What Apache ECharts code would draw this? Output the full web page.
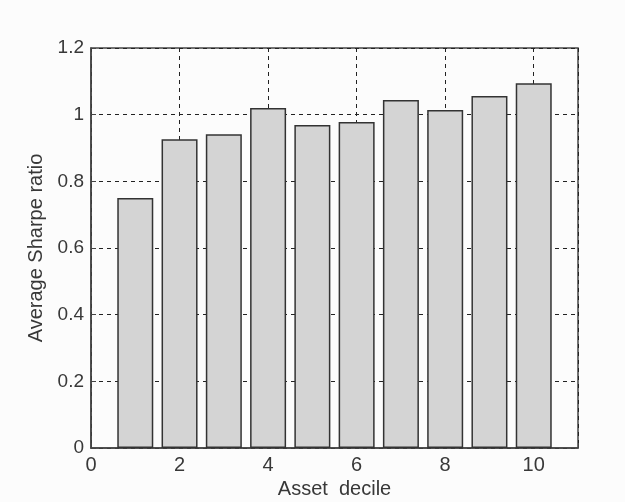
<!DOCTYPE html>
<html>
<head>
<meta charset="utf-8">
<script src="https://cdn.jsdelivr.net/npm/echarts@6/dist/echarts.min.js"></script>
<style>
html,body{margin:0;padding:0;background:#fcfcfc;}
#c{width:625px;height:502px;}
</style>
</head>
<body>
<div id="c"></div>
<script>
var deciles = [1, 2, 3, 4, 5, 6, 7, 8, 9, 10];
var sharpe = [0.750, 0.926, 0.941, 1.020, 0.969, 0.978, 1.044, 1.014, 1.056, 1.094];
var xTicks = [0, 2, 4, 6, 8, 10];
var yTicks = [0, 0.2, 0.4, 0.6, 0.8, 1, 1.2];

var chart = echarts.init(document.getElementById('c'));
var font = 'Liberation Sans, Arial, sans-serif';
var textColor = '#383838';
var dashed = {show: true, lineStyle: {color: '#222', type: [4, 4], width: 1}};
chart.setOption({
  backgroundColor: '#fcfcfc',
  animation: false,
  grid: {left: 91, right: 47, top: 48, bottom: 54, show: true, borderColor: '#444', borderWidth: 1.5,
    backgroundColor: 'transparent', outerBoundsMode: 'none', containLabel: false},
  xAxis: {
    type: 'value', min: 0, max: 11, interval: 2,
    name: 'Asset  decile', nameLocation: 'middle', nameGap: 30,
    nameTextStyle: {fontFamily: font, fontSize: 20, color: textColor},
    axisLine: {show: true, lineStyle: {color: '#444', width: 1.5}},
    axisTick: {show: true, inside: true, length: 5, lineStyle: {color: '#444'}},
    axisLabel: {fontFamily: font, fontSize: 20, color: textColor, margin: 7,
      formatter: function (v) { return xTicks.indexOf(v) >= 0 ? String(v) : ''; }},
    splitLine: dashed
  },
  yAxis: {
    type: 'value', min: 0, max: 1.2, interval: 0.2,
    name: 'Average Sharpe ratio', nameLocation: 'middle', nameGap: 44,
    nameTextStyle: {fontFamily: font, fontSize: 20, color: textColor},
    axisLine: {show: true, lineStyle: {color: '#444', width: 1.5}},
    axisTick: {show: true, inside: true, length: 5, lineStyle: {color: '#444'}},
    axisLabel: {fontFamily: font, fontSize: 19, color: textColor, margin: 7,
      formatter: function (v) {
        for (var i = 0; i < yTicks.length; i++) { if (Math.abs(yTicks[i] - v) < 1e-9) return String(yTicks[i]); }
        return '';
      }},
    splitLine: dashed
  },
  series: [{
    type: 'bar',
    data: deciles.map(function (d, i) { return [d, sharpe[i]]; }),
    barWidth: 36,
    itemStyle: {color: '#d4d4d4', borderColor: '#333', borderWidth: 1.5},
    z: 3
  }]
});
</script>
</body>
</html>
